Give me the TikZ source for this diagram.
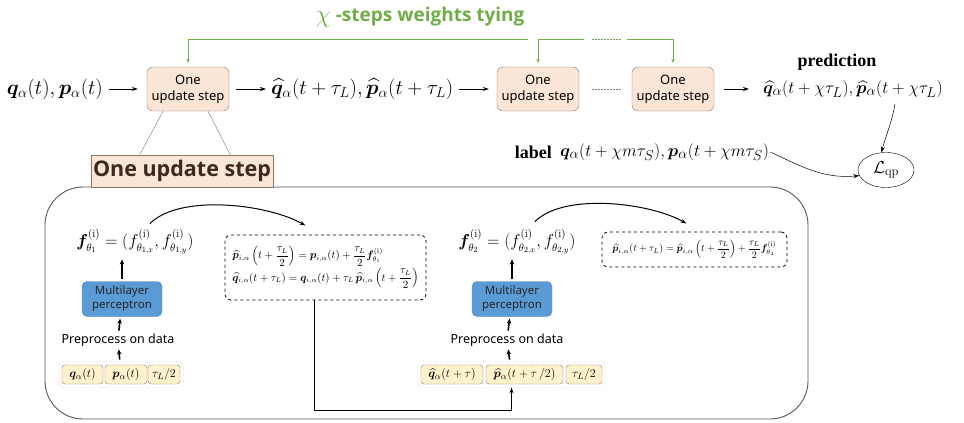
\documentclass[tikz,border=0pt]{standalone}
\usepackage{amsmath}
\usepackage{bm}
\usepackage{fontspec}
\newfontfamily\uisans{Noto Sans}
\newfontfamily\uibold{Open Sans}
\newfontfamily\tnr{Liberation Serif}
\usetikzlibrary{arrows.meta,calc,fit,shapes.geometric}
\definecolor{tiegreen}{HTML}{70AD47}
\definecolor{peach}{HTML}{FBE5D6}
\definecolor{peachedge}{HTML}{8A7866}
\definecolor{mlpblue}{HTML}{5B9BD5}
\definecolor{cellfill}{HTML}{FFF2CC}
\definecolor{celledge}{HTML}{8C7D66}
\definecolor{darkbrown}{HTML}{3B2A1E}
\definecolor{panelgray}{HTML}{595959}

\begin{document}
\begin{tikzpicture}[x=1pt,y=-1pt,
  stepbox/.style={draw=peachedge, fill=peach, rounded corners=6pt, minimum width=82, minimum height=44,
    inner sep=0pt, align=center, font=\uisans\fontsize{13}{16}\selectfont},
  eqtext/.style={inner sep=1pt, font=\fontsize{20}{22}\selectfont},
  arr/.style={-{Stealth[length=6pt,width=4pt]}, line width=0.7pt},
  thickarr/.style={-{Stealth[length=5pt,width=4.5pt]}, line width=1.6pt},
  garr/.style={draw=tiegreen, line width=1pt, -{Stealth[length=4pt,width=3.5pt]}},
  mlp/.style={fill=mlpblue, draw=mlpblue!85!black, rounded corners=5pt, minimum width=80, minimum height=35,
    align=center, inner sep=0pt, font=\uisans\fontsize{11.5}{14}\selectfont, text=black!85},
  cell/.style={draw=celledge, fill=cellfill, rounded corners=3pt, minimum height=19, inner sep=0pt,
    font=\fontsize{13}{15}\selectfont},
  group/.style={draw=gray, dotted, rounded corners=4pt, inner sep=3pt},
  eqbox/.style={draw, dashed, line width=0.8pt, rounded corners=6pt, align=left, inner sep=2pt},
  pretext/.style={inner sep=1pt, font=\uisans\fontsize{12.5}{15}\selectfont},
  ftext/.style={inner sep=1pt, font=\fontsize{16}{18}\selectfont},
  serifbold/.style={inner sep=1pt, font=\tnr\bfseries\fontsize{18}{20}\selectfont}
]
\useasboundingbox (0,0) rectangle (964,423);

% ---------- top row: chained update steps ----------
\node[inner sep=0pt, text=tiegreen, font=\uibold\bfseries\fontsize{19}{24}\selectfont] (title) at (420,17)
  {\raisebox{-1pt}{\scalebox{1.45}{$\chi$}} -steps weights tying};

\node[stepbox] (u1) at (188,89) {One\\update step};
\node[stepbox] (u2) at (538,89) {One\\update step};
\node[stepbox] (u3) at (673,89) {One\\update step};

\node[eqtext, anchor=east] (in) at (104,89) {$\bm{q}_\alpha(t),\bm{p}_\alpha(t)$};
\node[eqtext, anchor=west] (mid) at (270,89) {$\widehat{\bm{q}}_\alpha(t+\tau_L),\widehat{\bm{p}}_\alpha(t+\tau_L)$};
\node[eqtext, anchor=west, font=\fontsize{19}{22}\selectfont] (out) at (762,89)
  {$\widehat{\bm{q}}_\alpha(t+\chi\tau_L),\widehat{\bm{p}}_\alpha(t+\chi\tau_L)$};
\node[serifbold] (pred) at (837,62) {prediction};

\draw[arr, shorten <=5pt, shorten >=9pt] (in.east) -- (u1.west);
\draw[arr, shorten <=7pt, shorten >=4pt] (u1.east) -- (mid.west);
\draw[arr, shorten <=5pt, shorten >=8pt] (mid.east) -- (u2.west);
\draw[arr, shorten <=10pt, shorten >=13pt] (u3.east) -- (out.west);
\draw[gray, line width=1pt, dash pattern=on 2pt off 1pt] ($(u2.east)+(13,0)$) -- ($(u3.west)+(-10,0)$);

% weight tying connectors
\coordinate (gA) at (528,39);
\coordinate (gB) at (584,39);
\coordinate (gC) at (627,39);
\draw[garr, shorten >=4pt] (gA) -| (u1.north);
\draw[garr, shorten >=4pt] (gB) -| (u2.north);
\draw[garr, shorten >=4pt] (gC) -| (u3.north);
\draw[tiegreen!70!gray, line width=1pt, dash pattern=on 2pt off 1pt] ($(gB)+(8,0)$) -- ($(gC)+(-5,0)$);

% ---------- loss ----------
\node[draw, ellipse, minimum width=56, minimum height=35, inner sep=0pt, font=\fontsize{18}{20}\selectfont]
  (loss) at (886,170) {$\mathcal{L}_{\mathrm{qp}}$};
\node[serifbold, anchor=east] (lab) at (553,152) {label};
\node[eqtext, anchor=west, font=\fontsize{19}{22}\selectfont] (labtxt) at (559,152)
  {$\bm{q}_\alpha(t+\chi m\tau_S),\bm{p}_\alpha(t+\chi m\tau_S)$};
\coordinate (predfoot) at (895,104);
\draw[arr, line width=0.5pt] (predfoot) to[out=-100,in=75] (loss.105);
\draw[arr, line width=0.5pt] (labtxt.east) to[out=-25,in=185] (loss.192);

% ---------- detail panel ----------
\node[draw=panelgray, line width=0.9pt, rounded corners=38, minimum width=763, minimum height=232, inner sep=0pt]
  (panel) at (426.5,303) {};
\node[draw=peachedge, fill=peach, minimum width=182, minimum height=32, inner sep=0pt,
  font=\uibold\bfseries\fontsize{21.5}{26}\selectfont, text=darkbrown] (biglab) at (182,171) {One update step};
\draw[gray!80, line width=0.6pt] ($(u1.south)+(-25,0)$) -- ($(biglab.north west)+(49,0)$);
\draw[gray!80, line width=0.6pt] ($(u1.south)+(20,0)$) -- ($(biglab.north east)+(-43,0)$);

% first half step
\node[ftext] (f1) at (135,242)
  {$\bm{f}^{(\mathrm{i})}_{\theta_1} = (f^{(\mathrm{i})}_{\theta_{1,x}},f^{(\mathrm{i})}_{\theta_{1,y}})$};
\node[mlp] (mlp1) at (122,299) {Multilayer\\perceptron};
\node[pretext] (pre1) at (118,340) {Preprocess on data};
\node[cell, minimum width=41] (q1) at (82.5,374.5) {$\bm{q}_\alpha(t)$};
\node[cell, minimum width=42] (p1) at (126,374.5) {$\bm{p}_\alpha(t)$};
\node[cell, minimum width=32] (t1) at (164,374.5) {$\tau_L/2$};
\node[group, fit=(q1)(p1)(t1)] (g1) {};
\draw[thickarr, shorten <=2pt, shorten >=2pt] (g1) -- (pre1);
\draw[thickarr, shorten <=2pt, shorten >=2pt] (pre1) -- (mlp1);
\draw[thickarr, shorten <=2pt, shorten >=4pt] (mlp1) -- (mlp1 |- f1.south);

\node[eqbox, font=\fontsize{10.6}{13}\selectfont, minimum width=201, minimum height=65] (eq1) at (325.5,267.5)
  {$\widehat{\bm{p}}_{i,\alpha}\left(t+\dfrac{\tau_L}{2}\right) = \bm{p}_{i,\alpha}(t) + \dfrac{\tau_L}{2}\bm{f}^{(\mathrm{i})}_{\theta_1}$\\[1pt]
   $\widehat{\bm{q}}_{i,\alpha}(t+\tau_L) = \bm{q}_{i,\alpha}(t) + \tau_L\,\widehat{\bm{p}}_{i,\alpha}\left(t+\dfrac{\tau_L}{2}\right)$};
\draw[arr, line width=1pt] ($(f1.north)+(15,-5)$) to[out=45,in=150,looseness=0.7] ($(eq1.north)+(-20,-9)$);

% second half step
\node[ftext] (f2) at (517,242)
  {$\bm{f}^{(\mathrm{i})}_{\theta_2} = (f^{(\mathrm{i})}_{\theta_{2,x}},f^{(\mathrm{i})}_{\theta_{2,y}})$};
\node[mlp] (mlp2) at (512,299) {Multilayer\\perceptron};
\node[pretext] (pre2) at (507,340) {Preprocess on data};
\node[cell, minimum width=62] (q2) at (452,374.5) {$\widehat{\bm{q}}_\alpha(t+\tau)$};
\node[cell, minimum width=77] (p2) at (524.5,374.5) {$\widehat{\bm{p}}_\alpha(t+\tau\,/2)$};
\node[cell, minimum width=36] (t2) at (584,374.5) {$\tau_L/2$};
\node[group, fit=(q2)(p2)(t2)] (g2) {};
\draw[thickarr, shorten <=2pt, shorten >=2pt] (g2) -- (pre2);
\draw[thickarr, shorten <=2pt, shorten >=2pt] (pre2) -- (mlp2);
\draw[thickarr, shorten <=2pt, shorten >=4pt] (mlp2) -- (mlp2 |- f2.south);

\node[eqbox, font=\fontsize{10}{13}\selectfont, minimum width=185, minimum height=35] (eq2) at (694.5,249.5)
  {$\widehat{\bm{p}}_{i,\alpha}(t+\tau_L) = \widehat{\bm{p}}_{i,\alpha}\left(t+\dfrac{\tau_L}{2}\right) + \dfrac{\tau_L}{2}\bm{f}^{(\mathrm{i})}_{\theta_2}$};
\draw[arr, line width=1pt] ($(f2.north)+(18,-7)$) to[out=45,in=150,looseness=0.7] ($(eq2.north)+(-8,-8)$);

% hand-off from the first half step to the second
\draw[arr, line width=1.2pt] ($(eq1.south)+(-11,0)$) -- ++(0,110) -| (g2.south);
\end{tikzpicture}
\end{document}
